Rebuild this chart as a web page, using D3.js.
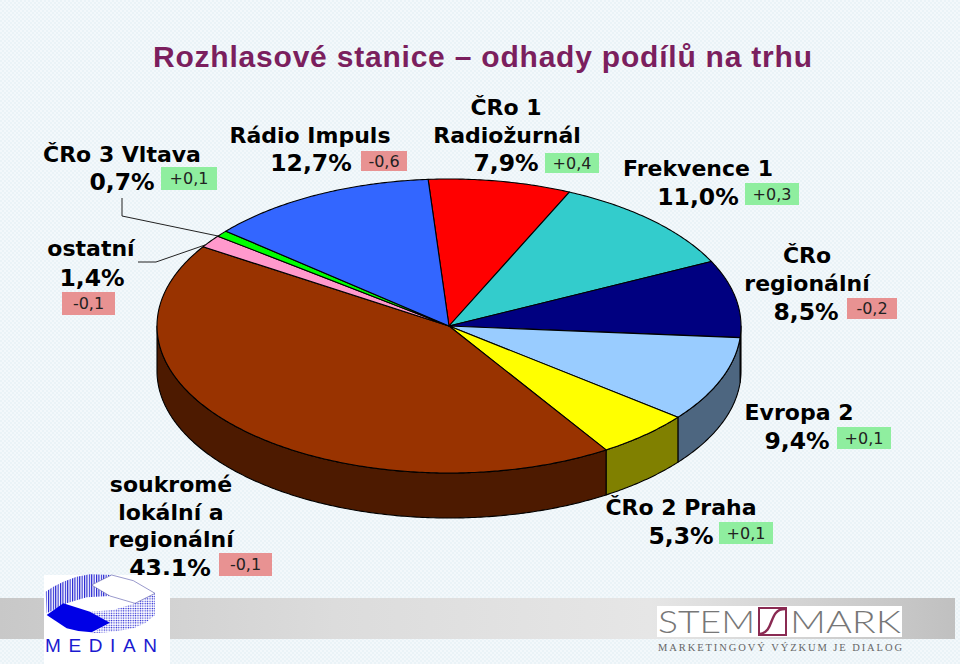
<!DOCTYPE html>
<html><head><meta charset="utf-8">
<script src="https://cdn.jsdelivr.net/npm/d3@7"></script>
<style>html,body{margin:0;padding:0;background:#f1f7fa}svg{display:block}</style></head>
<body><div id="c"></div>
<script>
// --- data ---
const stations = ["ČRo 1 Radiožurnál","Frekvence 1","ČRo regionální","Evropa 2","ČRo 2 Praha","soukromé lokální a regionální","ostatní","ČRo 3 Vltava","Rádio Impuls"];
const shares   = [7.9,11.0,8.5,9.4,5.3,43.1,1.4,0.7,12.7];
const changes  = [0.4,0.3,-0.2,0.1,0.1,-0.1,-0.1,0.1,-0.6];
const title = "Rozhlasové stanice – odhady podílů na trhu";
const topColors  = ["#ff0000","#33cccc","#000080","#99ccff","#ffff00","#993300","#ff99cc","#00ff00","#3366ff"];
const wallColors = ["#800000","#1a6666","#000040","#4d6680","#808000","#4d1a00","#804d66","#008000","#1a3380"];

// --- layout (not data) ---
const W=960,H=664,cx=449,cy=326,rx=292,ry=147,depth=45,startDeg=-4.1;
const labelLayout=[
 {lines:["ČRo 1","Radiožurnál"],x:[506,507],y:[115,143],pct:[506,171],box:[545,153,54,20]},
 {lines:["Frekvence 1"],x:[698],y:[176],pct:[698,205],box:[745,183,54,22]},
 {lines:["ČRo","regionální"],x:[807,807],y:[263,291],pct:[806,320],box:[847,298,50,21]},
 {lines:["Evropa 2"],x:[799],y:[420],pct:[797,449],box:[837,427,54,22]},
 {lines:["ČRo 2 Praha"],x:[681],y:[515],pct:[681,544],box:[719,522,54,22]},
 {lines:["soukromé","lokální a","regionální"],x:[171,171,171],y:[492,520,547],pct:[170,576],box:[219,553,53,23]},
 {lines:["ostatní"],x:[91],y:[256],pct:[92,286],box:[62,292,53,23]},
 {lines:["ČRo 3 Vltava"],x:[122],y:[162],pct:[122,190],box:[161,167,56,23]},
 {lines:["Rádio Impuls"],x:[310],y:[143],pct:[311,171],box:[361,151,46,20]}
];
const leaders=[[[122,198],[122,216],[218,236]],[[138,262],[156,262],[205,245]]];

const svg=d3.select("#c").append("svg").attr("width",W).attr("height",H).attr("viewBox",`0 0 ${W} ${H}`);
const defs=svg.append("defs");
const bg=defs.append("pattern").attr("id","bgp").attr("width",4).attr("height",4).attr("patternUnits","userSpaceOnUse");
bg.append("rect").attr("width",4).attr("height",4).attr("fill","#f3f8fb");
bg.append("rect").attr("width",2).attr("height",2).attr("fill","#eaf3f7");
bg.append("rect").attr("x",2).attr("y",2).attr("width",2).attr("height",2).attr("fill","#eaf3f7");
const band=defs.append("linearGradient").attr("id","band");
[[0,"#c8c8c8"],[.35,"#dcdcdc"],[.68,"#e6e6e6"],[1,"#c0c0c0"]].forEach(([o,c])=>band.append("stop").attr("offset",o).attr("stop-color",c));
const hatch=defs.append("pattern").attr("id","hatch").attr("width",2.4).attr("height",4).attr("patternUnits","userSpaceOnUse");
hatch.append("rect").attr("width",1.1).attr("height",4).attr("fill","#1a1ad0");
const dots=defs.append("pattern").attr("id","dots").attr("width",2.4).attr("height",2.4).attr("patternUnits","userSpaceOnUse");
dots.append("circle").attr("cx",1.2).attr("cy",1.2).attr("r",.7).attr("fill","#1a1ad0");

svg.append("rect").attr("width",W).attr("height",H).attr("fill","url(#bgp)");
svg.append("rect").attr("x",0).attr("y",598).attr("width",955).attr("height",41).attr("fill","url(#band)");

svg.append("text").text(title).attr("x",482.5).attr("y",67).attr("text-anchor","middle")
 .attr("font-family","Liberation Sans").attr("font-weight","bold").attr("font-size",30).attr("fill","#7b1f5e")
 .attr("textLength",659).attr("lengthAdjust","spacing");

// --- pie ---
const rad=d=>d*Math.PI/180, s0=rad(startDeg);
const arcs=d3.pie().sort(null).startAngle(s0).endAngle(s0+2*Math.PI)(shares);
arcs.forEach((a,i)=>{a.i=i;});
const px=d3.scaleLinear().domain([-1,1]).range([cx-rx,cx+rx]);
const py=d3.scaleLinear().domain([-1,1]).range([cy-ry,cy+ry]);
const pt=(t,dz=0)=>[px(Math.sin(t)),py(-Math.cos(t))+dz];
const line=d3.line();
const sweep=(a,b,dz=0)=>{const n=Math.max(2,Math.ceil(Math.abs(b-a)/0.01));return d3.range(n+1).map(k=>pt(a+(b-a)*k/n,dz));};

const g=svg.append("g").attr("stroke","#000").attr("stroke-width",1.1).attr("stroke-linejoin","round");
// outer walls: only the front half of the ellipse (90°–270°) is visible
arcs.forEach(a=>{
  const lo=Math.max(a.startAngle,Math.PI/2), hi=Math.min(a.endAngle,Math.PI*1.5);
  if(hi<=lo) return;
  const poly=[...sweep(lo,hi),...sweep(hi,lo,depth)];
  g.append("path").attr("d",line(poly)+"Z").attr("fill",wallColors[a.i]);
});
// top faces
arcs.forEach(a=>{
  g.append("path").attr("d",line([[cx,cy],...sweep(a.startAngle,a.endAngle)])+"Z").attr("fill",topColors[a.i]);
});

// --- leader lines ---
svg.selectAll("path.leader").data(leaders).join("path").attr("class","leader")
  .attr("d",d=>line(d)).attr("fill","none").attr("stroke","#222").attr("stroke-width",1);

// --- labels ---
const lab=svg.append("g").attr("font-family","DejaVu Sans").attr("font-weight","bold").attr("fill","#000").attr("text-anchor","middle");
const pctFmt=v=>d3.format(".1f")(v).replace(".",",")+"%";
const chgFmt=v=>d3.format("+.1f")(v).replace(".",",").replace("−","-");
stations.forEach((s,i)=>{
  const L=labelLayout[i];
  L.lines.forEach((t,k)=>lab.append("text").text(t).attr("x",L.x[k]).attr("y",L.y[k]).attr("font-size",22));
  lab.append("text").text(pctFmt(shares[i])).attr("x",L.pct[0]).attr("y",L.pct[1]).attr("font-size",23.5);
  const [bx,by,bw,bh]=L.box;
  svg.append("rect").attr("x",bx).attr("y",by).attr("width",bw).attr("height",bh).attr("fill",changes[i]>0?"#8fee9f":"#e89292");
  svg.append("text").text(chgFmt(changes[i])).attr("x",bx+bw/2).attr("y",by+bh/2+5.5).attr("text-anchor","middle")
    .attr("font-family","DejaVu Sans").attr("font-size",16).attr("fill","#222");
});

// --- MEDIAN logo ---
const m=svg.append("g");
m.append("rect").attr("x",44).attr("y",575).attr("width",126).attr("height",89).attr("fill","#fff");
const z=(x,y)=>[x/3,560+y/3];
const poly=(pts,fill,stroke)=>m.append("path").attr("d",line(pts.map(p=>z(p[0],p[1])))+"Z").attr("fill",fill).attr("stroke",stroke||"none").attr("stroke-width",.6);
poly([[137,95],[160,80],[190,65],[230,50],[270,43],[335,45],[275,75],[330,108],[260,112],[200,130],[140,160]],"url(#hatch)");
poly([[465,100],[465,165],[435,190],[400,205],[340,215],[275,220],[330,188],[270,155],[340,150],[405,130]],"url(#dots)");
poly([[140,165],[190,130],[270,155],[330,188],[275,217],[235,213],[200,205]],"#0000e6");
poly([[335,45],[400,62],[465,100],[405,130],[330,108],[275,75]],"#fff","#5555aa");
m.append("text").text("MEDIAN").attr("x",45).attr("y",652).attr("font-family","Liberation Sans").attr("font-size",19)
  .attr("fill","#1a1ad0").attr("textLength",112).attr("lengthAdjust","spacing");

// --- STEM/MARK logo ---
const st=svg.append("g");
st.append("rect").attr("x",657).attr("y",606).attr("width",245).attr("height",31).attr("fill","#fff");
st.append("text").text("STEM").attr("x",658).attr("y",633).attr("font-family","Lato").attr("font-weight",300).attr("font-size",32).attr("fill","#777")
  .attr("textLength",97).attr("lengthAdjust","spacingAndGlyphs");
st.append("text").text("MARK").attr("x",790).attr("y",633).attr("font-family","Lato").attr("font-weight",300).attr("font-size",32).attr("fill","#777")
  .attr("textLength",111).attr("lengthAdjust","spacingAndGlyphs");
st.append("rect").attr("x",759).attr("y",608).attr("width",27).attr("height",27).attr("fill","#fff").attr("stroke","#8a2a52").attr("stroke-width",2);
st.append("path").attr("d","M760,634C775,632 768,609 785,609").attr("fill","none").attr("stroke","#8a2a52").attr("stroke-width",2.4);
st.append("text").text("MARKETINGOVÝ VÝZKUM JE DIALOG").attr("x",658).attr("y",651).attr("font-family","Liberation Serif").attr("font-size",10.5)
  .attr("fill","#666").attr("textLength",244).attr("lengthAdjust","spacing");
</script></body></html>
